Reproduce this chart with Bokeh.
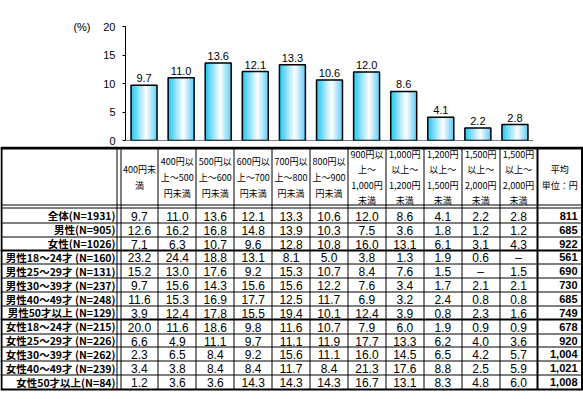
from bokeh.plotting import figure
from bokeh.models import Range1d, Span, ColumnDataSource, FixedTicker, LinearAxis
from bokeh.transform import dodge
from bokeh.core.properties import value
from bokeh.embed import file_html
from bokeh.resources import INLINE

# ---------------- data ----------------
col_headers = [
    "400円未\n満",
    "400円以\n上～500\n円未満",
    "500円以\n上～600\n円未満",
    "600円以\n上～700\n円未満",
    "700円以\n上～800\n円未満",
    "800円以\n上～900\n円未満",
    "900円以\n上～\n1,000円\n未満",
    "1,000円\n以上～\n1,200円\n未満",
    "1,200円\n以上～\n1,500円\n未満",
    "1,500円\n以上～\n2,000円\n未満",
    "1,500円\n以上～\n2,000円\n未満",
]
avg_header = "平均\n単位：円"

bar_values = [9.7, 11.0, 13.6, 12.1, 13.3, 10.6, 12.0, 8.6, 4.1, 2.2, 2.8]

row_labels = [
    "全体(N=1931)",
    "男性(N=905)",
    "女性(N=1026)",
    "男性18～24才 (N=160)",
    "男性25～29才 (N=131)",
    "男性30～39才 (N=237)",
    "男性40～49才 (N=248)",
    "男性50才以上 (N=129)",
    "女性18～24才 (N=215)",
    "女性25～29才 (N=226)",
    "女性30～39才 (N=262)",
    "女性40～49才 (N=239)",
    "女性50才以上(N=84)",
]
row_all   = [9.7, 11.0, 13.6, 12.1, 13.3, 10.6, 12.0, 8.6, 4.1, 2.2, 2.8]
row_m     = [12.6, 16.2, 16.8, 14.8, 13.9, 10.3, 7.5, 3.6, 1.8, 1.2, 1.2]
row_f     = [7.1, 6.3, 10.7, 9.6, 12.8, 10.8, 16.0, 13.1, 6.1, 3.1, 4.3]
row_m18   = [23.2, 24.4, 18.8, 13.1, 8.1, 5.0, 3.8, 1.3, 1.9, 0.6, None]
row_m25   = [15.2, 13.0, 17.6, 9.2, 15.3, 10.7, 8.4, 7.6, 1.5, None, 1.5]
row_m30   = [9.7, 15.6, 14.3, 15.6, 15.6, 12.2, 7.6, 3.4, 1.7, 2.1, 2.1]
row_m40   = [11.6, 15.3, 16.9, 17.7, 12.5, 11.7, 6.9, 3.2, 2.4, 0.8, 0.8]
row_m50   = [3.9, 12.4, 17.8, 15.5, 19.4, 10.1, 12.4, 3.9, 0.8, 2.3, 1.6]
row_f18   = [20.0, 11.6, 18.6, 9.8, 11.6, 10.7, 7.9, 6.0, 1.9, 0.9, 0.9]
row_f25   = [6.6, 4.9, 11.1, 9.7, 11.1, 11.9, 17.7, 13.3, 6.2, 4.0, 3.6]
row_f30   = [2.3, 6.5, 8.4, 9.2, 15.6, 11.1, 16.0, 14.5, 6.5, 4.2, 5.7]
row_f40   = [3.4, 3.8, 8.4, 8.4, 11.7, 8.4, 21.3, 17.6, 8.8, 2.5, 5.9]
row_f50   = [1.2, 3.6, 3.6, 14.3, 14.3, 14.3, 16.7, 13.1, 8.3, 4.8, 6.0]
table_rows = [row_all, row_m, row_f, row_m18, row_m25, row_m30, row_m40,
              row_m50, row_f18, row_f25, row_f30, row_f40, row_f50]
averages = [811, 685, 922, 561, 690, 730, 685, 749, 678, 920, 1004, 1021, 1008]

y_ticks = [0, 5, 10, 15, 20]
unit_label = "(%)"

# ---------------- bar chart ----------------
W = 583
H1 = 146
H2 = 246
FONT = "Liberation Sans"
JP = "Noto Sans CJK JP"

p1 = figure(width=W, height=H1, output_backend="svg", toolbar_location=None,
            x_range=Range1d(-0.5, 10.5), y_range=Range1d(0, 20),
            min_border_left=125, min_border_right=50,
            min_border_top=26, min_border_bottom=6)
p1.xaxis.visible = False
p1.xgrid.grid_line_color = None
p1.ygrid.grid_line_color = None
p1.outline_line_color = None
p1.background_fill_color = "white"
p1.border_fill_color = "white"
ax = p1.yaxis[0]
ax.ticker = FixedTicker(ticks=y_ticks)
ax.major_tick_out = 3
ax.major_tick_in = 0
ax.minor_tick_line_color = None
ax.axis_line_color = "black"
ax.major_tick_line_color = "black"
ax.major_label_text_font = FONT
ax.major_label_text_font_size = "11px"
ax.major_label_text_color = "black"
ax.major_label_standoff = 7

# unit label "(%)" as an outer axis with a single labelled tick at the top value
ax2 = LinearAxis(ticker=FixedTicker(ticks=[y_ticks[-1]]),
                 major_label_overrides={y_ticks[-1]: unit_label},
                 axis_line_color=None, major_tick_line_color=None,
                 minor_tick_line_color=None, major_tick_out=0, major_tick_in=0,
                 major_label_standoff=10,
                 major_label_text_font=FONT, major_label_text_font_size="11px",
                 major_label_text_color="black")
p1.add_layout(ax2, "left")

src = ColumnDataSource(dict(
    x=list(range(len(bar_values))),
    v=bar_values,
    lbl=[f"{v:.1f}" for v in bar_values],
))


def grad(t):
    stops = [(0.0, (25, 195, 240)), (0.6, (255, 255, 255)), (1.0, (95, 205, 245))]
    for (t0, c0), (t1, c1) in zip(stops[:-1], stops[1:]):
        if t <= t1:
            f = (t - t0) / (t1 - t0)
            c = [round(a + (b - a) * f) for a, b in zip(c0, c1)]
            return "#%02x%02x%02x" % tuple(c)
    return "#%02x%02x%02x" % stops[-1][1]


bw = 0.70
N = 16
sw = bw / N
for k in range(N):
    t = (k + 0.5) / N
    c = grad(t)
    off = -bw / 2 + (k + 0.5) * sw
    p1.vbar(x=dodge("x", off), top="v", bottom=0, width=sw, source=src,
            fill_color=c, line_color=c, line_width=0.6)
p1.vbar(x="x", top="v", bottom=0, width=bw, source=src,
        fill_color=None, line_color="black", line_width=1.5)

p1.add_layout(Span(location=0, dimension="width", line_color="black", line_width=1))

p1.text(x="x", y="v", text="lbl", source=src, text_align="center",
        text_baseline="alphabetic", y_offset=-7,
        text_font=value(FONT), text_font_size="11px", text_color="black")

# ---------------- table ----------------
p2 = figure(width=W, height=H2, output_backend="svg", toolbar_location=None,
            x_range=Range1d(0, W), y_range=Range1d(H2, 0),
            x_axis_type=None, y_axis_type=None, min_border=0)
p2.xgrid.grid_line_color = None
p2.ygrid.grid_line_color = None
p2.outline_line_color = None
p2.background_fill_color = "white"
p2.border_fill_color = "white"

col_left = 120
col_w = (537 - 120) / 11
avg_left = 537
right_edge = 581.5
row_top = 62.5
row_h = 13.85
ncols = len(col_headers)
nrows = len(row_labels)
bottom = row_top + nrows * row_h


def px(v):
    return round(v - 0.5) + 0.5


# horizontal lines
thin_h = [59, 61.7] + [row_top + i * row_h for i in range(1, nrows) if i not in (3, 8)]
thick_h = [row_top + i * row_h for i in (3, 8)]
p2.segment(x0=[0] * len(thin_h), x1=[W] * len(thin_h), y0=[px(y) for y in thin_h],
           y1=[px(y) for y in thin_h], line_color="black", line_width=1)
p2.segment(x0=[0] * len(thick_h), x1=[W] * len(thick_h), y0=[round(y) for y in thick_h],
           y1=[round(y) for y in thick_h], line_color="black", line_width=2)
p2.segment(x0=[0], x1=[W], y0=[1.5], y1=[1.5], line_color="black", line_width=3)
p2.segment(x0=[0], x1=[W], y0=[round(bottom)], y1=[round(bottom)],
           line_color="black", line_width=2)

# vertical lines
thin_v = [117, col_left] + [col_left + k * col_w for k in range(1, ncols)]
p2.segment(x0=[px(x) for x in thin_v], x1=[px(x) for x in thin_v],
           y0=[1.5] * len(thin_v), y1=[bottom] * len(thin_v),
           line_color="black", line_width=1)
thick_v = [1, avg_left, right_edge]
p2.segment(x0=thick_v, x1=thick_v, y0=[1.5] * 3, y1=[bottom] * 3,
           line_color="black", line_width=2)

# header texts
hx = [col_left + (k + 0.5) * col_w for k in range(ncols)] + [(avg_left + right_edge) / 2]
hsrc = ColumnDataSource(dict(x=hx, y=[31] * len(hx), t=col_headers + [avg_header]))
p2.text(x="x", y="y", text="t", source=hsrc, text_align="center",
        text_baseline="middle", text_line_height=1.2,
        text_font=value(JP), text_font_size="9px", text_color="black")

# row labels
ry = [row_top + (i + 0.5) * row_h for i in range(nrows)]
lsrc = ColumnDataSource(dict(x=[115] * nrows, y=ry, t=row_labels))
p2.text(x="x", y="y", text="t", source=lsrc, text_align="right",
        text_baseline="middle", text_font=value(JP), text_font_style="bold",
        text_font_size="10.5px", text_color="black")

# cell values
cx, cy, ct = [], [], []
for i, row in enumerate(table_rows):
    for k, v in enumerate(row):
        cx.append(col_left + (k + 0.5) * col_w)
        cy.append(ry[i] + 0.5)
        ct.append(f"{v:.1f}" if v is not None else "–")
csrc = ColumnDataSource(dict(x=cx, y=cy, t=ct))
p2.text(x="x", y="y", text="t", source=csrc, text_align="center",
        text_baseline="middle", text_font=value(FONT),
        text_font_size="12px", text_color="black")

# averages
asrc = ColumnDataSource(dict(x=[577] * nrows, y=ry, t=[f"{a:,}" for a in averages]))
p2.text(x="x", y="y", text="t", source=asrc, text_align="right",
        text_baseline="middle", text_font=value(FONT), text_font_style="bold",
        text_font_size="11px", text_color="black")

open("out.html", "w").write(file_html([p1, p2], INLINE))
